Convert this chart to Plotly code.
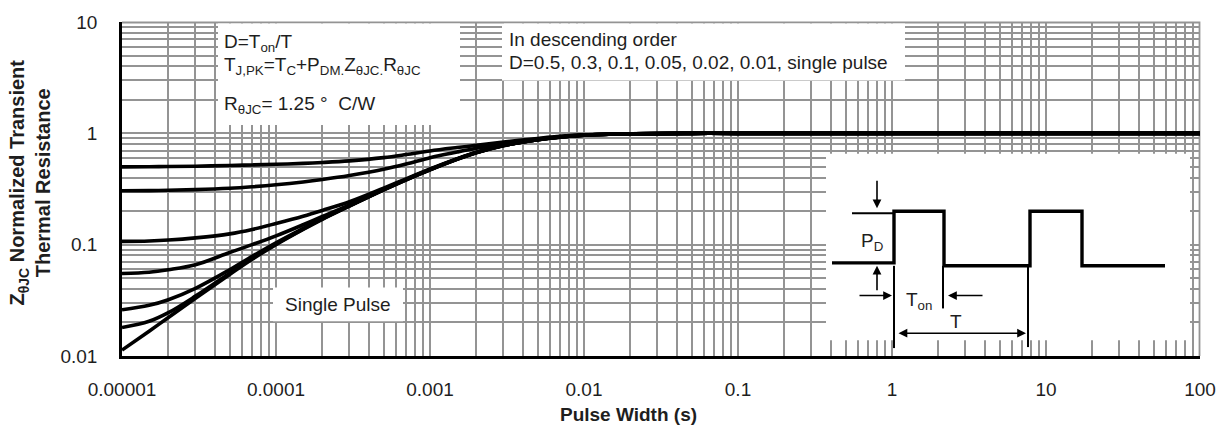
import plotly.graph_objects as go

# ---------------- data ----------------
pulse_width = [1e-5, 1.5e-5, 2e-5, 3e-5, 5e-5, 7e-5, 1e-4, 1.5e-4, 2e-4, 3e-4, 5e-4, 7e-4,
               1e-3, 1.5e-3, 2e-3, 3e-3, 5e-3, 7e-3, 1e-2, 2e-2, 5e-2, 1e-1, 1, 10, 100]

z_d050 = [0.500, 0.501, 0.503, 0.507, 0.514, 0.520, 0.527, 0.537, 0.547, 0.566, 0.605, 0.645,
          0.695, 0.745, 0.780, 0.835, 0.900, 0.940, 0.968, 0.990, 1.0, 1.0, 1.0, 1.0, 1.0]
z_d030 = [0.305, 0.306, 0.308, 0.312, 0.321, 0.331, 0.345, 0.366, 0.385, 0.418, 0.475, 0.530,
          0.605, 0.680, 0.735, 0.810, 0.890, 0.935, 0.966, 0.990, 1.0, 1.0, 1.0, 1.0, 1.0]
z_d010 = [0.107, 0.108, 0.110, 0.115, 0.125, 0.137, 0.155, 0.180, 0.203, 0.243, 0.322, 0.390,
          0.478, 0.592, 0.677, 0.780, 0.878, 0.927, 0.963, 0.990, 1.0, 1.0, 1.0, 1.0, 1.0]
z_d005 = [0.055, 0.0565, 0.0595, 0.066, 0.085, 0.100, 0.120, 0.151, 0.179, 0.228, 0.315, 0.386,
          0.473, 0.588, 0.673, 0.778, 0.877, 0.926, 0.962, 0.990, 1.0, 1.0, 1.0, 1.0, 1.0]
z_d002 = [0.026, 0.0285, 0.032, 0.0405, 0.0595, 0.0785, 0.104, 0.140, 0.172, 0.224, 0.312, 0.384,
          0.472, 0.587, 0.672, 0.777, 0.877, 0.926, 0.962, 0.990, 1.0, 1.0, 1.0, 1.0, 1.0]
z_d001 = [0.018, 0.0205, 0.0245, 0.0345, 0.0555, 0.0755, 0.1015, 0.138, 0.170, 0.223, 0.311, 0.383,
          0.471, 0.586, 0.671, 0.776, 0.876, 0.925, 0.962, 0.990, 1.0, 1.0, 1.0, 1.0, 1.0]
z_single = [0.0113, 0.0167, 0.0222, 0.0330, 0.0540, 0.0740, 0.100, 0.137, 0.169, 0.222, 0.310, 0.382,
            0.470, 0.585, 0.670, 0.775, 0.875, 0.925, 0.962, 0.990, 1.0, 1.0, 1.0, 1.0, 1.0]

series = [("D=0.5", z_d050), ("D=0.3", z_d030), ("D=0.1", z_d010), ("D=0.05", z_d005),
          ("D=0.02", z_d002), ("D=0.01", z_d001), ("Single pulse", z_single)]

x_tickvals = [1e-5, 1e-4, 1e-3, 1e-2, 1e-1, 1, 10, 100]
x_ticktext = ["0.00001", "0.0001", "0.001", "0.01", "0.1", "1", "10", "100"]
y_tickvals = [0.01, 0.1, 1, 10]
y_ticktext = ["0.01", "0.1", "1", "10"]

# ---------------- layout geometry ----------------
W, H = 1228, 435
L, R, T, B = 122, 28, 19, 79
PW, PH = W - L - R, H - T - B

def fx(p):  # pixel x -> paper
    return (p - L) / PW

def fy(p):  # pixel y -> paper
    return (H - B - p) / PH

FONT = "Liberation Sans, Arial, sans-serif"
TXT = "#1e1e1e"
GRID = "#949494"

x_minor = [m * 10.0 ** e for e in range(-5, 2) for m in range(2, 10)]
y_minor = [m * 10.0 ** e for e in range(-2, 1) for m in range(2, 10)]

fig = go.Figure()
for name, vals in series:
    fig.add_trace(go.Scatter(x=pulse_width, y=vals, mode="lines", name=name,
                             line=dict(color="black", width=3.6, shape="spline", smoothing=1.0),
                             showlegend=False, hoverinfo="skip"))

axis_common = dict(type="log", showgrid=True, gridcolor=GRID, gridwidth=1.8,
                   ticks="", showline=True, linecolor="black", linewidth=2.6,
                   tickfont=dict(family=FONT, size=19, color=TXT), zeroline=False)

fig.update_xaxes(range=[-5, 2], tickmode="array", tickvals=x_tickvals, ticktext=x_ticktext,
                 minor=dict(tickmode="array", tickvals=x_minor, showgrid=True,
                            gridcolor=GRID, gridwidth=1.8, ticks=""),
                 ticklabelstandoff=14, **axis_common)
fig.update_yaxes(range=[-2, 1], tickmode="array", tickvals=y_tickvals, ticktext=y_ticktext,
                 minor=dict(tickmode="array", tickvals=y_minor, showgrid=True,
                            gridcolor=GRID, gridwidth=1.8, ticks=""),
                 ticklabelstandoff=18, **axis_common)

shapes = []
def rect(x0, y0, x1, y1):
    shapes.append(dict(type="rect", xref="paper", yref="paper",
                       x0=fx(x0), x1=fx(x1), y0=fy(y1), y1=fy(y0),
                       fillcolor="white", line=dict(width=0), layer="above"))

def seg(pts, width, color="black", layer="above"):
    path = "M " + " L ".join(f"{fx(a):.5f},{fy(b):.5f}" for a, b in pts)
    shapes.append(dict(type="path", xref="paper", yref="paper", path=path,
                       line=dict(color=color, width=width), layer=layer))

# gray frame on the top and right edges (grid lines at 10 and 100)
seg([(L, T + 0.5), (W - R - 0.5, T + 0.5), (W - R - 0.5, H - B)], 1.8, color=GRID, layer="below")

# white text boxes
rect(218, 20.5, 460, 123)
rect(502, 20.5, 905, 78)
rect(273, 287, 403, 321)
rect(826, 152, 1190, 340)

# pulse waveform inset
seg([(832, 262), (894, 262), (894, 210), (944, 210), (944, 265), (1030, 265),
     (1030, 210), (1082, 210), (1082, 265), (1165, 265)], 3.4)
seg([(852, 212), (893, 212)], 2.0)
seg([(894, 265), (894, 348)], 2.0)
seg([(943, 265), (943, 308)], 2.0)
seg([(1028, 265), (1028, 347)], 2.0)

fig.update_layout(shapes=shapes)

ann = []
def text(x, y, s, size=19, xanchor="left", bold=False, angle=0):
    ann.append(dict(xref="paper", yref="paper", x=fx(x), y=fy(y), text=s, showarrow=False,
                    xanchor=xanchor, yanchor="middle", align="left" if xanchor == "left" else "center",
                    textangle=angle,
                    font=dict(family=FONT, size=size, color=TXT,
                              weight="bold" if bold else "normal")))

def arrow(hx, hy, tx, ty, side="end"):
    ann.append(dict(xref="paper", yref="paper", x=fx(hx), y=fy(hy), ax=tx - hx, ay=ty - hy,
                    axref="pixel", ayref="pixel", text="", showarrow=True,
                    arrowhead=2, arrowsize=1.1, arrowwidth=1.6, arrowcolor="black",
                    arrowside=side, standoff=0, startstandoff=0))

text(222, 40, "D=T<sub>on</sub>/T")
text(222, 63, "T<sub>J,PK</sub>=T<sub>C</sub>+P<sub>DM.</sub>Z<sub>θJC.</sub>R<sub>θJC</sub>")
text(222, 103, "R<sub>θJC</sub>= 1.25 °  C/W")
text(507, 37, "In descending order")
text(507, 60, "D=0.5, 0.3, 0.1, 0.05, 0.02, 0.01, single pulse")
text(338, 304, "Single Pulse", xanchor="center")
text(872, 241, "P<sub>D</sub>", xanchor="center")
text(919, 301, "T<sub>on</sub>", xanchor="center")
text(956, 321, "T", xanchor="center")

arrow(877, 207, 877, 178)
arrow(877, 265, 877, 291)
arrow(892, 295, 858, 295)
arrow(948, 295, 984, 295)
arrow(1026, 333, 897, 333, side="end+start")

text(628, 415, "Pulse Width (s)", xanchor="center", bold=True)
text(30, 181, "Z<sub>θJC</sub> Normalized Transient<br>Thermal Resistance", size=20,
     xanchor="center", bold=True, angle=-90)

fig.update_layout(annotations=ann, width=W, height=H,
                  margin=dict(l=L, r=R, t=T, b=B),
                  paper_bgcolor="white", plot_bgcolor="white",
                  font=dict(family=FONT, color=TXT))

fig.write_html("out.html", config={"displayModeBar": False},
               post_script="document.body.style.margin='0px';document.body.style.overflow='hidden';")
